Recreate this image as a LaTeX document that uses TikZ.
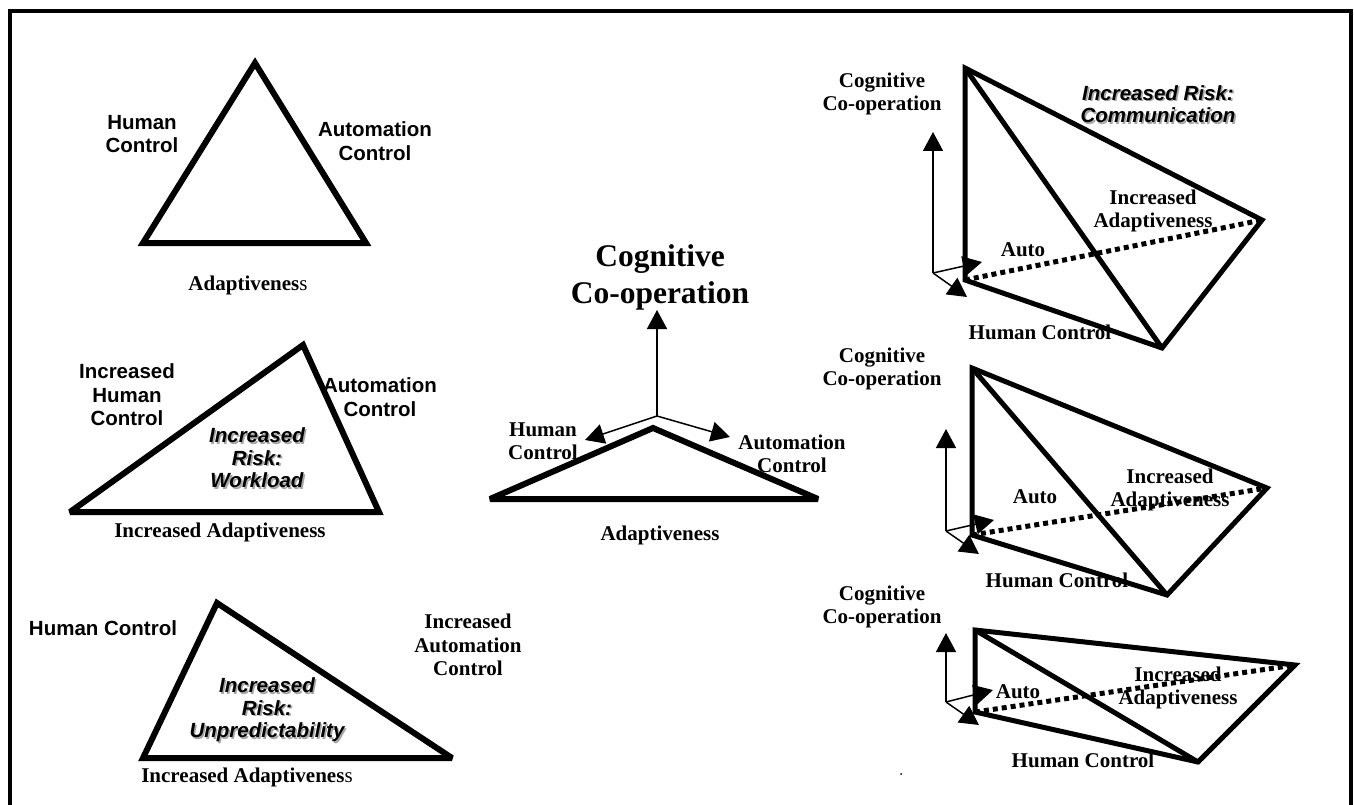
\documentclass[tikz,border=0pt]{standalone}
\usepackage{fontspec}
\setmainfont{Liberation Serif}
\setsansfont{Liberation Sans}
\usetikzlibrary{arrows.meta}

% label fonts
\newcommand\sanslab{\sffamily\bfseries\fontsize{20.5}{23.5}\selectfont}
\newcommand\serlab{\rmfamily\bfseries\fontsize{21}{23.5}\selectfont}
\newcommand\biglab{\rmfamily\bfseries\fontsize{31.5}{37}\selectfont}
\newcommand\risklab{\sffamily\bfseries\itshape\fontsize{20.5}{22.5}\selectfont}

% italic risk caption with a soft grey drop shadow
\newcommand\risktext[4]{%
  \node[risk, text=black!35] at ({#1+1.6},{#2+1.6}) {#4};
  \node[risk] (#3) at (#1,#2) {#4};}

\begin{document}
\begin{tikzpicture}[x=1pt, y=-1pt,
  frame/.style={line width=4pt},
  tri/.style={line width=6pt, line join=miter, miter limit=2.5},
  edge/.style={line width=5pt, line join=miter, miter limit=2.5},
  hidden/.style={line width=5pt, dash pattern=on 5pt off 4pt},
  axis/.style={line width=1.5pt, -{Triangle[length=19pt,width=20pt]}},
  sans/.style={font=\sanslab, align=center, inner sep=0pt},
  ser/.style={font=\serlab, align=center, inner sep=0pt},
  big/.style={font=\biglab, align=center, inner sep=0pt},
  risk/.style={font=\risklab, align=center, inner sep=0pt}]

\useasboundingbox (0,0) rectangle (1354,805);

% outer frame, open at the bottom
\draw[frame] (9.5,805) -- (9.5,11) -- (1351,11) -- (1351,805);

% ---------- triangle 1 ----------
\draw[tri] (255,63) -- (143,243) -- (366,243) -- cycle;
\node[sans] (t1h) at (142,134) {Human\\Control};
\node[sans] (t1a) at (375,141) {Automation\\Control};
\node[ser]  (t1d) at (248,285) {Adaptivenes{\mdseries s}};

% ---------- triangle 2 ----------
\draw[tri] (303,345) -- (70,512) -- (379,512) -- cycle;
\node[sans] (t2h) at (127,395) {Increased\\Human\\Control};
\node[sans] (t2a) at (380,397) {Automation\\Control};
\risktext{257}{458}{t2r}{Increased\\Risk:\\Workload}
\node[ser]  (t2d) at (220,532) {Increased Adaptiveness};

% ---------- triangle 3 ----------
\draw[tri] (217,603) -- (143,758) -- (452,758) -- cycle;
\node[sans] (t3h) at (103,628) {Human Control};
\node[ser]  (t3a) at (468,645) {Increased\\Automation\\Control};
\risktext{267}{710}{t3r}{Increased\\Risk:\\Unpredictability}
\node[ser]  (t3d) at (247,777) {Increased Adaptivenes{\mdseries s}};

% ---------- central axes ----------
\node[big] (cc) at (660,277) {Cognitive\\Co-operation};
\coordinate (co) at (657,416);
\coordinate (cu) at (657,310);
\coordinate (cl) at (585,440);
\coordinate (cr) at (730,437);
\draw[axis] (co) -- (cu);
\draw[axis] (co) -- (cl);
\draw[axis] (co) -- (cr);
\draw[tri] (653,428) -- (490,499) -- (818,499) -- cycle;
\node[ser] (ch) at (543,441) {Human\\Control};
\node[ser] (ca) at (792,454) {Automation\\Control};
\node[ser] (cd) at (660,535) {Adaptiveness};

% ---------- prism A ----------
\coordinate (aT) at (965,68);
\coordinate (aR) at (1262,220);
\coordinate (aB) at (1162,348);
\coordinate (aL) at (965,280);
\draw[hidden] (aL) -- (aR);
\draw[edge] (aT) -- (aL) -- (aB) -- (aR) -- cycle;
\draw[edge] (aT) -- (aB);
\coordinate (aO) at (933,273);
\coordinate (aU) at (933,132);
\coordinate (aX) at (982,262);
\coordinate (aY) at (967,297);
\draw[axis] (aO) -- (aU);
\draw[axis] (aO) -- (aX);
\draw[axis] (aO) -- (aY);
\node[ser] (ac) at (882,94) {Cognitive\\Co-operation};
\risktext{1158}{104}{ar}{Increased Risk:\\Communication}
\node[ser] (ai) at (1153,211) {Increased\\Adaptiveness};
\node[ser] (aa) at (1023,250) {Auto};
\node[ser] (ah) at (1040,332) {Human Control};

% ---------- prism B ----------
\coordinate (bT) at (972,368);
\coordinate (bR) at (1267,488);
\coordinate (bB) at (1167,595);
\coordinate (bL) at (972,535);
\draw[hidden] (bL) -- (bR);
\draw[edge] (bT) -- (bL) -- (bB) -- (bR) -- cycle;
\draw[edge] (bT) -- (bB);
\coordinate (bO) at (946,531);
\coordinate (bU) at (946,429);
\coordinate (bX) at (994,520);
\coordinate (bY) at (979,554);
\draw[axis] (bO) -- (bU);
\draw[axis] (bO) -- (bX);
\draw[axis] (bO) -- (bY);
\node[ser] (bc) at (882,369) {Cognitive\\Co-operation};
\node[ser] (ba) at (1035,497) {Auto};
\node[ser] (bi) at (1170,490) {Increased\\Adaptiveness};
\node[ser] (bh) at (1057,580) {Human Control};

% ---------- prism C ----------
\coordinate (cT) at (975,630);
\coordinate (cR) at (1295,665);
\coordinate (cB) at (1198,762);
\coordinate (cL) at (975,712);
\draw[hidden] (cL) -- (cR);
\draw[edge] (cT) -- (cL) -- (cB) -- (cR) -- cycle;
\draw[edge] (cT) -- (cB);
\coordinate (cO) at (946,702);
\coordinate (cUp) at (946,633);
\coordinate (cX) at (993,690);
\coordinate (cY) at (979,725);
\draw[axis] (cO) -- (cUp);
\draw[axis] (cO) -- (cX);
\draw[axis] (cO) -- (cY);
\node[ser] (cc2) at (882,607) {Cognitive\\Co-operation};
\node[ser] (ca2) at (1018,692) {Auto};
\node[ser] (ci2) at (1178,688) {Increased\\Adaptiveness};
\node[ser] (ch2) at (1083,760) {Human Control};
\fill (901,774) circle (1pt);

\end{tikzpicture}
\end{document}
